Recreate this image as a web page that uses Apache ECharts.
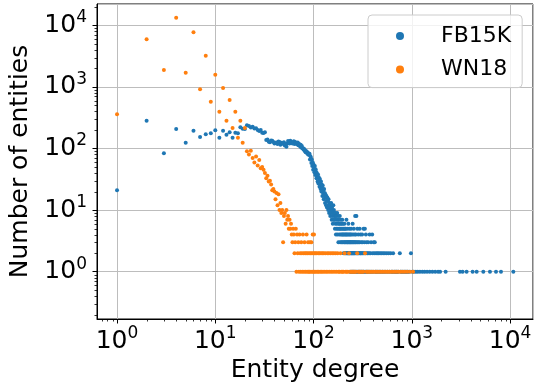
<!DOCTYPE html>
<html><head><meta charset="utf-8">
<script src="https://cdn.jsdelivr.net/npm/echarts@6/dist/echarts.min.js"></script>
<style>html,body{margin:0;padding:0;background:#fff}#c{width:541px;height:389px}</style>
</head><body><div id="c"></div>
<script>
// ---- data: [entity degree, number of entities] ----
const fbHead = [[1,21],[2,282],[3,84],[4,207],[5,124],[6,195],[7,154],[8,170],[9,177],[10,197],
[11,150],[12,195],[13,167],[14,183],[15,150],[16,180],[17,177],[18,221],[19,210],[20,207],
[21,238],[22,232],[23,220],[24,225],[25,212],[26,214],[27,199],[28,192],[29,200],[30,181],
[31,178],[32,183],[33,137],[34,140],[35,129],[36,126],[37,135],[38,133],[39,128],[40,120],
[41,124],[42,125],[43,118],[44,130],[45,127],[46,115],[47,124],[48,119],[49,122],[50,126],
[51,112],[52,118],[53,107],[54,121],[55,132],[56,125],[57,121],[58,134],[59,128],[60,125],
[61,120],[62,125],[63,131],[64,118],[65,127],[66,122],[67,122],[68,117],[69,125],[70,113],
[71,119],[72,113],[73,108],[74,115],[75,104],[76,110],[77,101],[78,101],[79,96],[80,99],
[81,92],[82,94],[83,87],[84,90],[85,89],[86,84],[87,86],[88,80],[89,83],[90,79]];
const fbTail = [[91,82],[92,66],[93,75],[94,70],[95,58],[96,66],[97,52],[98,60],[99,45],[100,55],
[101,50],[102,41],[103,52],[104,37],[105,46],[106,42],[107,33],[108,40],[109,36],[110,29],
[111,38],[112,27],[113,34],[114,30],[115,24],[116,32],[117,26],[118,22],[119,29],[120,20],
[121,26],[122,23],[123,17],[124,25],[125,19],[126,21],[127,15],[128,22],[129,17],[130,19],
[131,13],[132,18],[133,16],[134,12],[135,17],[136,14],[137,11],[138,16],[139,12],[140,14],
[141,10],[142,15],[143,11],[144,9],[145,13],[146,10],[147,12],[148,8],[149,11],[150,9],
[151,13],[152,10],[153,7],[154,11],[155,8],[156,10],[157,6],[158,9],[159,12],[160,7],
[161,10],[162,8],[163,7],[164,9],[165,5],[166,8],[167,6],[168,9],[169,4],[170,7],
[171,8],[172,5],[173,6],[174,9],[175,4],[176,7],[177,5],[178,8],[179,3],[180,6],
[181,7],[182,4],[183,5],[184,6],[185,8],[186,3],[187,5],[188,4],[189,7],[190,6],
[191,3],[192,5],[193,4],[194,6],[195,3],[196,7],[197,4],[198,5],[199,3],[200,6],
[201,4],[202,2],[203,5],[204,3],[205,4],[206,6],[207,3],[208,5],[209,2],[210,4],
[211,3],[212,5],[213,2],[214,4],[215,3],[216,7],[217,2],[218,4],[219,3],[220,5],
[221,2],[222,3],[223,4],[224,2],[225,3],[226,6],[227,2],[228,4],[229,3],[230,2],
[231,5],[232,3],[233,2],[234,4],[235,1],[236,3],[237,2],[238,4],[239,3],[240,2],
[241,5],[242,1],[243,3],[244,2],[245,4],[246,2],[247,3],[248,1],[249,2],[250,6],
[251,3],[252,2],[253,4],[254,1],[255,3],[256,2],[257,5],[258,2],[259,3],[260,1]];
const fbSparse = [[261,2],[263,4],[264,3],[265,8],[266,2],[268,3],[269,1],[270,4],[272,2],[273,8],
[275,3],[276,1],[277,2],[279,5],[280,3],[282,2],[283,1],[285,4],[287,2],[288,3],[290,1],[292,2],
[294,3],[295,5],[297,1],[299,2],[300,4],[302,2],[304,1],[306,3],[308,2],[310,1],[312,4],[314,2],
[316,3],[318,1],[320,2],[323,5],[325,1],[327,2],[330,3],[333,5],[335,1],[338,2],[341,4],[344,1],
[347,3],[350,2],[353,1],[357,2],[360,3],[364,1],[368,2],[372,4],[376,1],[380,2],[385,3],[390,1],
[395,4],[400,2],[405,1],[410,3],[415,2],[420,3],[426,1],[432,2],[438,1],[445,2],[452,1],[460,2],
[468,1],[476,2],[485,1],[494,2],[503,1],[512,2],[522,1],[532,2],[543,1],[555,2],[567,1],[580,2],
[594,1],[608,2],[622,1],[637,1],[645,2],[660,1],[676,1],[692,1],[710,1],[728,1],[755,2],[770,1],
[790,1],[812,1],[835,1],[860,1],[885,1],[910,1],[940,1],[980,2],[1010,1],[1050,1],[1100,1],
[1150,1],[1210,1],[1280,1],[1350,1],[1430,1],[1520,1],[1620,1],[1730,1],[1850,1],[1940,1],
[2210,1],[3090,1],[3290,1],[3610,1],[4160,1],[4570,1],[5340,1],[6240,1],[7190,1],[8080,1],[10790,1]];

const wnHead = [[1,359],[2,5930],[3,1880],[4,13270],[5,1700],[6,7700],[7,915],[8,3210],[9,575],[10,1580],
[11,396],[12,960],[13,283],[14,613],[15,215],[16,396],[17,150],[18,283],[19,124],[20,215],
[21,90],[22,80],[23,92],[24,70],[25,59],[26,74],[27,53],[28,65],[29,48],[30,50],
[31,45],[32,40],[33,33],[34,36],[35,29],[36,30],[37,26],[38,21],[39,22],[40,20]];
const wnTail = [[41,15],[42,19],[43,12],[44,18],[45,10],[46,13],[47,9],[48,10],[49,3],[50,8],
[51,9],[52,6],[53,10],[54,7],[55,8],[56,5],[57,7],[58,5],[59,6],[60,4],
[61,3],[62,5],[63,4],[64,2],[65,3],[66,5],[67,1],[68,4],[69,2],[70,3],
[71,1],[72,4],[73,2],[74,1],[75,3],[76,2],[77,1],[78,4],[79,2],[80,1],
[81,3],[82,2],[83,1],[84,2],[85,4],[86,1],[87,2],[88,3],[89,1],[90,2],
[91,1],[92,3],[93,2],[94,1],[95,3],[96,2],[97,1],[98,4],[99,2],[100,1],
[101,4],[102,2],[103,1],[105,2],[106,1],[108,2],[110,1],[112,2],[113,1],[115,2]];
const wnSparse = [[117,1],[119,2],[121,1],[123,2],[125,1],[127,2],[130,1],[132,2],[135,1],[138,2],
[140,1],[143,2],[146,1],[149,2],[152,1],[155,2],[158,1],[161,2],[165,1],[168,2],[172,1],[176,2],
[180,1],[184,1],[188,2],[192,1],[197,1],[202,1],[207,2],[212,1],[218,1],[224,1],[230,2],[236,1],
[242,1],[249,1],[256,1],[263,1],[270,1],[278,2],[286,1],[294,1],[303,1],[312,1],[322,1],[334,2],
[345,1],[357,1],[370,1],[383,1],[397,1],[412,1],[428,1],[445,1],[463,1],[482,1],[502,1],[523,1],
[545,1],[568,1],[592,1],[617,1],[643,1],[670,1],[700,1],[735,1],[770,1],[810,1],[850,1],[900,1],
[960,1],[1030,1]];

const seriesNames = ['FB15K', 'WN18'];
const seriesColors = ['#1f77b4', '#ff7f0e'];
const xAxisTitle = 'Entity degree';
const yAxisTitle = 'Number of entities';
const xRange = [0.6256, 17110];
const yRange = [0.1706, 22180];

const FONT = 'DejaVu Sans';
const chart = echarts.init(document.getElementById('c'), null, {renderer: 'canvas'});

function powLabel(v) {
  const e = Math.round(Math.log10(v));
  return '{b|10}{s|' + e + '}';
}
const richPow = {
  b: {fontSize: 25, fontFamily: FONT, color: '#000', lineHeight: 32},
  s: {fontSize: 17, fontFamily: FONT, color: '#000', lineHeight: 17, verticalAlign: 'top'}
};
const gridLeft = 97, gridTop = 4, gridRight = 8, gridBottom = 70;

chart.setOption({
  animation: false,
  backgroundColor: '#fff',
  grid: {left: gridLeft, top: gridTop, right: gridRight, bottom: gridBottom,
    containLabel: false, outerBoundsMode: 'none',
    show: true, borderColor: '#000', borderWidth: 1, backgroundColor: 'transparent'},
  legend: {
    data: seriesNames,
    orient: 'vertical', left: 368, top: 15,
    icon: 'circle', itemWidth: 8, itemHeight: 8, itemGap: 9.6,
    padding: [9, 11, 6, 28],
    backgroundColor: 'rgba(255,255,255,0.8)', borderColor: '#cccccc', borderWidth: 1, borderRadius: 4,
    textStyle: {fontSize: 22, fontFamily: FONT, color: '#000', lineHeight: 24, padding: [0, 0, 0, 32]}
  },
  xAxis: {
    type: 'log', logBase: 10, min: xRange[0], max: xRange[1],
    name: xAxisTitle, nameLocation: 'middle', nameGap: 39,
    nameTextStyle: {fontSize: 25, fontFamily: FONT, color: '#000'},
    axisLine: {show: true, onZero: false, lineStyle: {color: '#000', width: 1}},
    axisTick: {show: true, inside: false, length: 4.5, lineStyle: {color: '#000', width: 1}},
    axisLabel: {formatter: powLabel, rich: richPow, margin: 6, showMinLabel: false, showMaxLabel: false},
    splitLine: {show: true, lineStyle: {color: '#bdbdbd', width: 1}}
  },
  yAxis: {
    type: 'log', logBase: 10, min: yRange[0], max: yRange[1],
    name: yAxisTitle, nameLocation: 'middle', nameGap: 55, nameRotate: 90,
    nameTextStyle: {fontSize: 25, fontFamily: FONT, color: '#000'},
    axisLine: {show: true, onZero: false, lineStyle: {color: '#000', width: 1}},
    axisTick: {show: true, inside: false, length: 4.5, lineStyle: {color: '#000', width: 1}},
    axisLabel: {formatter: powLabel, rich: richPow, margin: 10, showMinLabel: false, showMaxLabel: false},
    splitLine: {show: true, lineStyle: {color: '#bdbdbd', width: 1}}
  },
  series: [
    {name: seriesNames[0], type: 'scatter', symbol: 'circle', symbolSize: 4,
     itemStyle: {color: seriesColors[0], opacity: 1}, silent: true,
     data: fbHead.concat(fbTail, fbSparse)},
    {name: seriesNames[1], type: 'scatter', symbol: 'circle', symbolSize: 4,
     itemStyle: {color: seriesColors[1], opacity: 1}, silent: true,
     data: wnHead.concat(wnTail, wnSparse)}
  ]
});

// minor log ticks (2..9 x 10^k), placed through the axes' own scales
const minorValues = [];
for (let k = -1; k <= 4; k++) for (let m = 2; m <= 9; m++) minorValues.push(m * Math.pow(10, k));
const els = [];
const x0 = gridLeft, x1 = 541 - gridRight, y0 = gridTop, y1 = 389 - gridBottom;
minorValues.forEach(v => {
  if (v > xRange[0] && v < xRange[1]) {
    const px = Math.round(chart.convertToPixel({xAxisIndex: 0}, v)) + 0.5;
    els.push({type: 'line', shape: {x1: px, y1: y1, x2: px, y2: y1 + 2.5}, style: {stroke: '#000', lineWidth: 0.8}, silent: true});
  }
  if (v > yRange[0] && v < yRange[1]) {
    const py = Math.round(chart.convertToPixel({yAxisIndex: 0}, v)) + 0.5;
    els.push({type: 'line', shape: {x1: x0, y1: py, x2: x0 - 2.5, y2: py}, style: {stroke: '#000', lineWidth: 0.8}, silent: true});
  }
});
chart.setOption({graphic: {elements: els}});
</script>
</body></html>
